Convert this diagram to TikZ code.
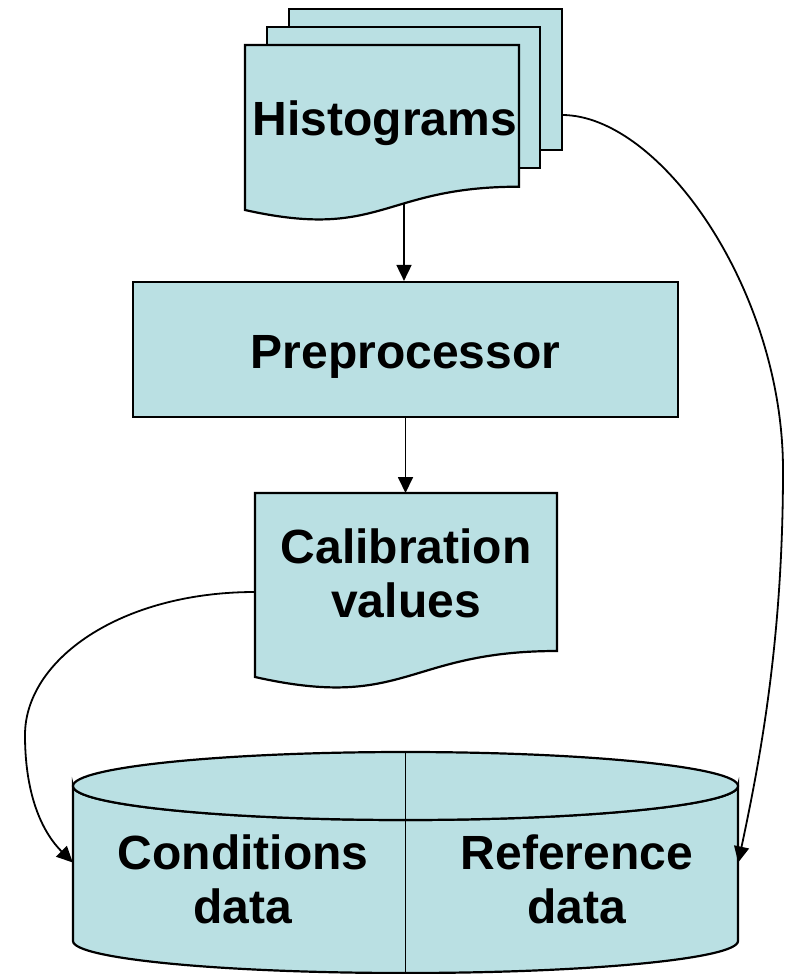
\documentclass[tikz,border=0pt]{standalone}
\usepackage{fontspec}
\setmainfont{Liberation Sans}
\usetikzlibrary{arrows.meta}
\definecolor{boxfill}{RGB}{186,224,227}
\begin{document}
\begin{tikzpicture}[x=1pt,y=-1pt,
  outline/.style={draw=black, line width=2.2pt, fill=boxfill, line join=miter},
  flow/.style={draw=black, line width=1.8pt, -{Triangle[length=16pt,width=15pt]}},
  lbl/.style={font=\fontsize{48}{54}\selectfont\bfseries, align=center, anchor=base, inner sep=0pt}]
\useasboundingbox (0,0) rectangle (785,974);

% stacked histogram sheets, back to front
\draw[outline] (289,9) rectangle (562,150);
\draw[outline] (267,27) rectangle (540,168);
\draw[outline] (245,45) -- (519,45) -- (519,186.7)
  .. controls (382,186.7) and (382,240.7) .. (245,210) -- cycle;
\coordinate (hist-out) at (404,204);
\coordinate (hist-side) at (562,115);
\node[lbl] (hist) at (385,135) {Histograms};

% preprocessor box
\node[outline, inner sep=0pt, minimum width=545pt, minimum height=135pt] (prep) at (405.5,349.5) {};
\node[lbl] (prep-text) at (405.5,368) {Preprocessor};

% calibration values document (multi-line labels sit on their last baseline)
\draw[outline] (255,493) -- (557,493) -- (557,651)
  .. controls (406,651) and (406,711) .. (255,677) -- cycle;
\coordinate (calib-top) at (406,493);
\coordinate (calib-left) at (255,592);
\node[lbl] (calib) at (406,617) {Calibration\\values};

% database cylinder
\node[inner sep=0pt, minimum width=665pt, minimum height=221pt] (db) at (405.5,862.5) {};
\path[outline] (73,786) -- (73,941)
  arc[start angle=180, end angle=0, x radius=332.5, y radius=32]
  -- (738,786)
  arc[start angle=0, end angle=180, x radius=332.5, y radius=34] -- cycle;
\draw[outline] (405.5,786) ellipse [x radius=332.5, y radius=34];
\draw[line width=1.8pt] (405.5,752) -- (405.5,973);
\node[lbl] (cond) at (243,923) {Conditions\\data};
\node[lbl] (ref) at (577,923) {Reference\\data};

% connectors
\draw[flow] (hist-out) -- (hist-out |- prep.north);
\draw[flow] (prep.south) -- (prep.south |- calib-top);
\draw[flow] (calib-left) .. controls (120,592) and (25,660) .. (25,735)
  .. controls (25,800) and (45,835) .. (db.west);
\draw[flow] (hist-side) .. controls (660,115) and (783,290) .. (783,470)
  .. controls (783,640) and (760,760) .. (db.east);
\end{tikzpicture}
\end{document}
